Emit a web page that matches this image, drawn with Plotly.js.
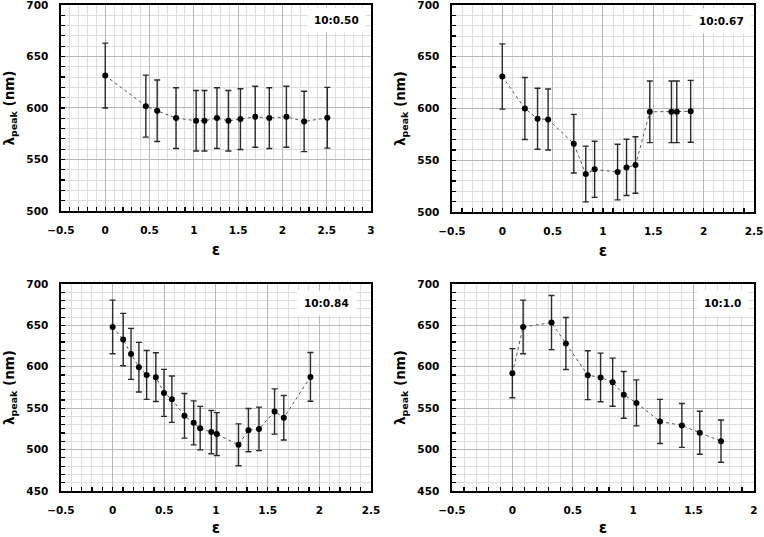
<!DOCTYPE html>
<html>
<head>
<meta charset="utf-8">
<script src="https://cdn.plot.ly/plotly-3.0.1.min.js"></script>
<style>html,body{margin:0;padding:0;background:#fff;}#chart{width:764px;height:537px;}</style>
</head>
<body>
<div id="chart"></div>
<script>
// Panel labels
const panelLabels = ["10:0.50", "10:0.67", "10:0.84", "10:1.0"];

// Panel 1 (10:0.50)
const eps1 = [0, 0.458, 0.586, 0.799, 1.026, 1.12, 1.261, 1.39, 1.526, 1.693, 1.852, 2.045, 2.245, 2.507];
const peak1 = [631.5, 601.8, 597.3, 590.2, 587.6, 587.6, 590.2, 587.6, 589.2, 591.5, 590.2, 591.5, 586.9, 590.5];
const err1 = [31.5, 30.1, 29.9, 29.5, 29.4, 29.4, 29.5, 29.4, 29.5, 29.6, 29.5, 29.6, 29.3, 29.5];

// Panel 2 (10:0.67)
const eps2 = [0, 0.224, 0.35, 0.455, 0.71, 0.829, 0.917, 1.145, 1.234, 1.323, 1.465, 1.68, 1.733, 1.871];
const peak2 = [630.9, 600, 590.1, 589.4, 566, 536.7, 541.2, 538.6, 543.1, 545.4, 596.8, 596.8, 596.8, 597.3];
const err2 = [31.5, 30, 29.5, 29.5, 28.3, 26.9, 27.1, 26.9, 27.2, 27.3, 29.8, 29.8, 29.8, 29.9];

// Panel 3 (10:0.84)
const eps3 = [0, 0.102, 0.178, 0.254, 0.329, 0.418, 0.497, 0.573, 0.695, 0.784, 0.847, 0.955, 1.008, 1.218, 1.314, 1.416, 1.567, 1.656, 1.914];
const peak3 = [648.1, 632.9, 615.6, 599.5, 590.2, 587.5, 568.5, 560.9, 540.8, 532.3, 525.9, 521.1, 518.7, 505.8, 523.5, 525, 546, 538.4, 587.8];
const err3 = [32.4, 31.6, 30.8, 30, 29.5, 29.4, 28.4, 28, 27, 26.6, 26.3, 26.1, 25.9, 25.3, 26.2, 26.3, 27.3, 26.9, 29.4];

// Panel 4 (10:1.0)
const eps4 = [0, 0.089, 0.324, 0.443, 0.624, 0.73, 0.83, 0.922, 1.027, 1.222, 1.403, 1.551, 1.727];
const peak4 = [592.3, 648.1, 653.4, 628.1, 589.9, 587.1, 581.4, 566.1, 556.4, 534, 529.2, 520.3, 510.2];
const err4 = [29.6, 32.4, 32.7, 31.4, 29.5, 29.4, 29.1, 28.3, 27.8, 26.7, 26.5, 26, 25.5];

// Axis ranges
const xRanges = [[-0.5, 3], [-0.5, 2.5], [-0.5, 2.5], [-0.5, 2]];
const yRanges = [[500, 700], [500, 700], [450, 700], [450, 700]];

const FONT = "DejaVu Sans";
const series = [[eps1, peak1, err1], [eps2, peak2, err2], [eps3, peak3, err3], [eps4, peak4, err4]];
const axSuffix = ["", "2", "3", "4"];

const traces = series.map((s, i) => ({
  type: "scatter",
  mode: "lines+markers",
  x: s[0], y: s[1],
  xaxis: "x" + axSuffix[i], yaxis: "y" + axSuffix[i],
  line: {color: "#555", width: 1, dash: "dot"},
  marker: {color: "#000", size: 6},
  error_y: {type: "data", array: s[2], visible: true, color: "#2a2a2a", thickness: 1.4, width: 3},
  showlegend: false,
  cliponaxis: false
}));

const xDomains = [[0.0798, 0.4856], [0.5916, 0.9869], [0.0798, 0.4856], [0.5916, 0.9869]];
const yDomains = [[0.6071, 0.9907], [0.6052, 0.9907], [0.0857, 0.4711], [0.0857, 0.4711]];

function xaxis(i) {
  return {
    domain: xDomains[i], range: xRanges[i], dtick: 0.5, tick0: 0,
    anchor: "y" + axSuffix[i],
    showline: true, mirror: true, linecolor: "#000", linewidth: 1.6,
    ticks: "inside", ticklen: 4, tickcolor: "#000", tickwidth: 1.2,
    ticklabelstandoff: 9, ticklabeloverflow: "allow",
    showgrid: true, gridcolor: "#b8b8b8", gridwidth: 1,
    zeroline: false,
    minor: {dtick: 0.1, ticks: "inside", ticklen: 4, tickcolor: "#000", tickwidth: 1.2, showgrid: true, gridcolor: "#dedede", gridwidth: 1},
    tickfont: {family: FONT, size: 10.5, color: "#000", weight: "bold"},
    title: {text: "ε", font: {family: FONT, size: 15, color: "#000", weight: "bold"}, standoff: 9}
  };
}
function yaxis(i) {
  return {
    domain: yDomains[i], range: yRanges[i], dtick: 50,
    anchor: "x" + axSuffix[i],
    showline: true, mirror: true, linecolor: "#000", linewidth: 1.6,
    ticks: "inside", ticklen: 4, tickcolor: "#000", tickwidth: 1.2,
    ticklabelstandoff: 9, ticklabeloverflow: "allow",
    showgrid: true, gridcolor: "#b8b8b8", gridwidth: 1,
    zeroline: false,
    minor: {dtick: 10, ticks: "inside", ticklen: 4, tickcolor: "#000", tickwidth: 1.2, showgrid: true, gridcolor: "#dedede", gridwidth: 1},
    tickfont: {family: FONT, size: 10.5, color: "#000", weight: "bold"},
    title: {text: "λ<sub>peak</sub> (nm)", font: {family: FONT, size: 13.5, color: "#000", weight: "bold"}, standoff: 8}
  };
}

const labelPos = [[0.890, 0.927], [0.894, 0.923], [0.858, 0.908], [0.897, 0.908]];

const layout = {
  width: 764, height: 537,
  margin: {l: 0, r: 0, t: 0, b: 0},
  paper_bgcolor: "#fff", plot_bgcolor: "#fff",
  font: {family: FONT, color: "#000"},
  annotations: panelLabels.map((t, i) => ({
    text: t, showarrow: false,
    xref: "x" + axSuffix[i] + " domain", yref: "y" + axSuffix[i] + " domain",
    x: labelPos[i][0], y: labelPos[i][1], xanchor: "center", yanchor: "middle",
    bgcolor: "#fff", borderpad: 6,
    font: {family: FONT, size: 10.5, color: "#000", weight: "bold"}
  }))
};
for (let i = 0; i < 4; i++) {
  layout["xaxis" + axSuffix[i]] = xaxis(i);
  layout["yaxis" + axSuffix[i]] = yaxis(i);
}

Plotly.newPlot("chart", traces, layout, {staticPlot: true, displayModeBar: false});
</script>
</body>
</html>
